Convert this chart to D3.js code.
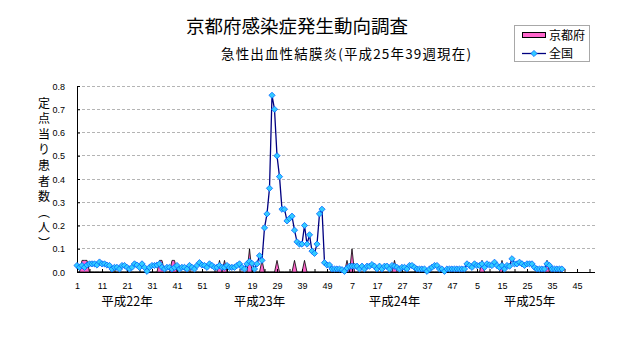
<!DOCTYPE html>
<html>
<head>
<meta charset="utf-8">
<script src="https://cdn.jsdelivr.net/npm/d3@7"></script>
<style>
  html, body { margin: 0; padding: 0; background: #fff; }
  svg { display: block; }
  text { font-family: "Noto Sans CJK JP", sans-serif; fill: #000; }
  .tick text { font-family: "Liberation Sans", Arial, sans-serif; font-size: 9px; }
</style>
</head>
<body>
<svg id="chart" width="632" height="348"></svg>
<script>
// Surveillance years (Heisei era) and weeks per year
const years = ["平成22年", "平成23年", "平成24年", "平成25年"];
const weeks = d3.range(1, 53);

// Nationwide cases per sentinel, by year (2013 runs to week 39)
const national22 = [0.028,0.02,0.028,0.02,0.03,0.035,0.035,0.035,0.03,0.043,
  0.035,0.035,0.03,0.028,0.013,0.02,0.02,0.013,0.028,0.028,
  0.02,0.013,0.02,0.035,0.03,0.02,0.035,0.02,0.003,0.02,
  0.028,0.028,0.03,0.035,0.02,0.013,0.02,0.02,0.013,0.02,
  0.028,0.013,0.02,0.02,0.013,0.028,0.02,0.013,0.028,0.04,
  0.03,0.028];
const national23 = [0.02,0.035,0.028,0.02,0.02,0.028,0.02,0.02,0.028,0.02,
  0.02,0.02,0.028,0.035,0.02,0.013,0.035,0.045,0.037,0.013,
  0.035,0.07,0.05,0.19,0.25,0.36,0.76,0.70,0.50,0.41,
  0.27,0.27,0.22,0.23,0.24,0.18,0.13,0.12,0.12,0.20,
  0.12,0.16,0.09,0.08,0.12,0.25,0.27,0.04,0.03,0.03,
  0.013,0.013];
const national24 = [0.013,0.013,0.01,0.003,0.017,0.025,0.025,0.025,0.025,0.013,
  0.025,0.013,0.025,0.025,0.032,0.025,0.013,0.025,0.013,0.025,
  0.025,0.013,0.028,0.025,0.02,0.013,0.02,0.02,0.013,0.028,
  0.028,0.02,0.013,0.013,0.013,0.013,0.003,0.013,0.02,0.028,
  0.028,0.013,0.013,0.003,0.013,0.013,0.013,0.013,0.013,0.013,
  0.013,0.013];
const national25 = [0.035,0.028,0.02,0.035,0.028,0.028,0.035,0.02,0.035,0.03,
  0.028,0.042,0.028,0.02,0.028,0.013,0.028,0.025,0.057,0.035,
  0.035,0.042,0.035,0.028,0.035,0.035,0.035,0.02,0.013,0.013,
  0.013,0.013,0.035,0.028,0.013,0.013,0.013,0.013,0.013];

// Kyoto Prefecture cases per sentinel, by year
const kyoto22 = [0,0,0.05,0.05,0.05,0,0,0,0,0, 0,0,0,0,0,0,0,0,0,0,
  0,0,0,0,0,0,0,0,0,0, 0,0,0,0.05,0.05,0,0,0,0.05,0.05,
  0,0,0,0,0,0,0,0,0,0, 0,0];
const kyoto23 = [0,0,0,0,0,0.05,0,0.05,0,0, 0,0,0,0,0,0,0,0.1,0,0,
  0,0,0.05,0,0,0,0,0,0.05,0, 0,0,0,0,0,0.05,0,0,0,0.05,
  0,0,0,0,0,0,0,0,0,0, 0,0];
const kyoto24 = [0,0,0,0,0.05,0,0.1,0,0,0, 0,0,0,0,0,0,0,0,0,0,
  0,0,0,0.05,0,0,0,0,0,0, 0,0,0,0,0,0,0,0,0,0,
  0,0,0,0,0,0,0,0,0,0, 0,0];
const kyoto25 = [0,0,0,0,0,0,0.05,0,0,0, 0,0,0,0,0.05,0,0,0,0,0,
  0,0,0,0,0,0,0,0,0,0, 0,0,0.05,0,0,0,0,0,0];

const yTicks = [0, 0.1, 0.2, 0.3, 0.4, 0.5, 0.6, 0.7, 0.8];
const yLabelChars = ["定","点","当","り","患","者","数","︵","人","︶"];
// week (within its year) under which each year caption is centred
const yearCaptionWeek = [21, 22, 24, 26];

const categories = years.flatMap(y => weeks.map(w => ({ year: y, week: w })));
const national = [...national22, ...national23, ...national24, ...national25];
const kyoto = [...kyoto22, ...kyoto23, ...kyoto24, ...kyoto25];

const svg = d3.select("#chart");
const plot = { left: 77, right: 594.5, top: 86, bottom: 272 };

const x = d3.scalePoint()
  .domain(d3.range(categories.length))
  .range([plot.left, plot.right]);
const y = d3.scaleLinear().domain([0, 0.8]).range([plot.bottom, plot.top]);

// dashed horizontal gridlines
svg.append("g").selectAll("line")
  .data(yTicks.filter(v => v > 0))
  .join("line")
  .attr("x1", plot.left).attr("x2", plot.right)
  .attr("y1", d => y(d)).attr("y2", d => y(d))
  .attr("stroke", "#b4b4b4").attr("stroke-width", 1)
  .attr("stroke-dasharray", "3,2")
  .attr("shape-rendering", "crispEdges");

// Kyoto Prefecture as filled area
const area = d3.area()
  .x((d, i) => x(i))
  .y0(y(0))
  .y1(d => y(d));
svg.append("path")
  .datum(kyoto)
  .attr("d", area)
  .attr("fill", "#ff66cc")
  .attr("stroke", "#000")
  .attr("stroke-width", 0.8)
  .attr("stroke-linejoin", "miter");

// axes
const xAxis = d3.axisBottom(x)
  .tickValues(d3.range(0, categories.length, 5))
  .tickFormat(i => (i % 10 === 0 ? String(categories[i].week) : ""))
  .tickSizeInner(-3).tickSizeOuter(0).tickPadding(11);
const gx = svg.append("g")
  .attr("transform", `translate(0,${plot.bottom})`)
  .call(xAxis);
gx.select(".domain").attr("stroke", "#000").attr("shape-rendering", "crispEdges");

const yAxis = d3.axisLeft(y)
  .tickValues(yTicks)
  .tickFormat(d3.format(".1f"))
  .tickSizeInner(-3).tickSizeOuter(0).tickPadding(12);
const gy = svg.append("g")
  .attr("transform", `translate(${plot.left},0)`)
  .call(yAxis);
gy.select(".domain").attr("stroke", "#000").attr("shape-rendering", "crispEdges");
gy.selectAll(".tick text").attr("dy", "0.35em");

// nationwide line with diamond markers
const line = d3.line().x((d, i) => x(i)).y(d => y(d));
svg.append("path")
  .datum(national)
  .attr("d", line)
  .attr("fill", "none")
  .attr("stroke", "#000080")
  .attr("stroke-width", 1.3);

const diamond = r => `M0,${-r}L${r},0L0,${r}L${-r},0Z`;
svg.append("g").selectAll("path")
  .data(national)
  .join("path")
  .attr("d", diamond(3.1))
  .attr("transform", (d, i) => `translate(${x(i)},${y(d)})`)
  .attr("fill", "#33ccff")
  .attr("stroke", "#0066ff")
  .attr("stroke-width", 0.8);

// year captions below the week numbers
svg.append("g").selectAll("text")
  .data(years)
  .join("text")
  .attr("x", (d, k) => x(k * weeks.length + yearCaptionWeek[k] - 1))
  .attr("y", 306)
  .attr("text-anchor", "middle")
  .attr("font-size", 12.5)
  .text(d => d);

// vertical y-axis title
svg.append("g").selectAll("text")
  .data(yLabelChars)
  .join("text")
  .attr("x", 44)
  .attr("y", (d, k) => 102 + k * 15.6)
  .attr("dominant-baseline", "central")
  .attr("text-anchor", "middle")
  .attr("font-size", 12)
  .text(d => d);

// titles
svg.append("text")
  .attr("x", 297).attr("y", 33)
  .attr("text-anchor", "middle")
  .attr("font-size", 18.5)
  .attr("textLength", 222).attr("lengthAdjust", "spacing")
  .text("京都府感染症発生動向調査");
svg.append("text")
  .attr("x", 346).attr("y", 59)
  .attr("text-anchor", "middle")
  .attr("font-size", 13.5)
  .attr("textLength", 250).attr("lengthAdjust", "spacing")
  .text("急性出血性結膜炎(平成25年39週現在)");

// legend
const lg = svg.append("g");
lg.append("rect")
  .attr("x", 514.5).attr("y", 25.5).attr("width", 75).attr("height", 36)
  .attr("fill", "#fff").attr("stroke", "#a8a8a8");
lg.append("rect")
  .attr("x", 522.5).attr("y", 32.5).attr("width", 23).attr("height", 5)
  .attr("fill", "#ff66cc").attr("stroke", "#000");
lg.append("text").attr("x", 549).attr("y", 40).attr("font-size", 12).text("京都府");
lg.append("line")
  .attr("x1", 522).attr("x2", 546).attr("y1", 53.5).attr("y2", 53.5)
  .attr("stroke", "#000080").attr("stroke-width", 1.3);
lg.append("path")
  .attr("d", diamond(3.1))
  .attr("transform", "translate(534,53.5)")
  .attr("fill", "#33ccff").attr("stroke", "#0066ff").attr("stroke-width", 0.8);
lg.append("text").attr("x", 549).attr("y", 58).attr("font-size", 12).text("全国");
</script>
</body>
</html>
